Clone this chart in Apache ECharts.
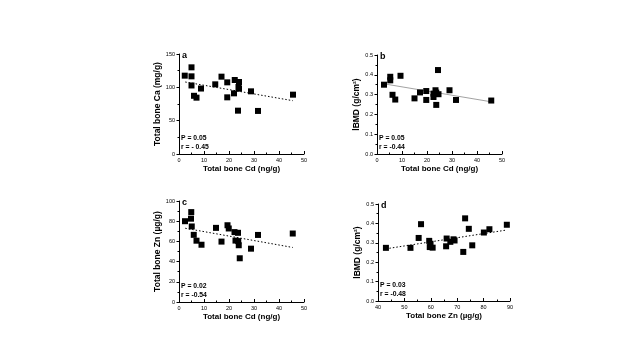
<!DOCTYPE html>
<html>
<head>
<meta charset="utf-8">
<script src="https://cdn.jsdelivr.net/npm/echarts@6/dist/echarts.min.js"></script>
<style>html,body{margin:0;padding:0;background:#fff;}#c{width:640px;height:360px;}</style>
</head>
<body>
<div id="c"></div>
<script>
// Panel a: Total bone Cd (ng/g) vs Total bone Ca (mg/g)
const cdA = [2.3, 5, 5, 5, 6, 7, 8.8, 14.5, 17, 19.3, 19.3, 22, 22.3, 24, 23.8, 24, 23.6, 28.8, 31.6, 45.6];
const caA = [117.5, 130, 116.5, 102.8, 87.3, 84.5, 98.2, 104.5, 116, 107.5, 85, 91, 111, 108, 100.5, 98, 65, 94, 64.6, 89];
const fitA = { x: [2.5, 45.5], y: [108, 80] };

// Panel b: Total bone Cd (ng/g) vs lBMD (g/cm2)
const cdB = [2.8, 5.3, 5.3, 6.2, 7.3, 9.4, 15, 17.2, 19.7, 19.7, 22.6, 22.6, 23.4, 23.7, 23.7, 24.4, 24.6, 29, 31.6, 45.7];
const bmdB = [0.35, 0.39, 0.372, 0.299, 0.275, 0.395, 0.281, 0.311, 0.318, 0.273, 0.305, 0.288, 0.322, 0.31, 0.248, 0.424, 0.302, 0.322, 0.273, 0.27];
const fitB = { x: [2.5, 45.5], y: [0.355, 0.264] };

// Panel c: Total bone Cd (ng/g) vs Total bone Zn (ug/g)
const cdC = [2.4, 4.9, 4.8, 5.1, 5.9, 7, 9, 14.8, 17, 19.4, 19.9, 22.2, 22.6, 23.6, 23.7, 23.9, 24.3, 28.8, 31.6, 45.5];
const znC = [80, 89, 82.5, 74.8, 66.5, 60.7, 56.7, 73.4, 59.8, 76, 72.8, 69.2, 60.8, 68.5, 60.3, 56.2, 43.3, 52.8, 66.4, 67.8];
const fitC = { x: [2.5, 45.5], y: [73, 54] };

// Panel d: Total bone Zn (ug/g) vs lBMD (g/cm2)
const znD = [43, 52.3, 55.4, 56.3, 59.4, 59.9, 59.6, 60.7, 65.8, 66, 67.4, 68.6, 69, 72.3, 73, 74.4, 75.7, 80.1, 82.2, 88.8];
const bmdD = [0.274, 0.274, 0.325, 0.396, 0.31, 0.295, 0.278, 0.275, 0.282, 0.322, 0.305, 0.318, 0.312, 0.253, 0.426, 0.372, 0.287, 0.353, 0.37, 0.393];
const fitD = { x: [43, 88.8], y: [0.269, 0.366] };

// Axis names, tick settings, and annotation texts
const xNames = ['Total bone Cd (ng/g)', 'Total bone Cd (ng/g)', 'Total bone Cd (ng/g)', 'Total bone Zn (\u00b5g/g)'];
const yNames = ['Total bone Ca (mg/g)', 'lBMD (g/cm\u00b2)', 'Total bone Zn (\u00b5g/g)', 'lBMD (g/cm\u00b2)'];
const xRanges = [[0, 50, 10], [0, 50, 10], [0, 50, 10], [40, 90, 10]];
const yRanges = [[0, 150, 50], [0, 0.5, 0.1], [0, 100, 20], [0, 0.5, 0.1]];
const letters = ['a', 'b', 'c', 'd'];
const pTexts = ['P = 0.05', 'P = 0.05', 'P = 0.02', 'P = 0.03'];
const rTexts = ['r = - 0.45', 'r = -0.44', 'r = -0.54', 'r = -0.48'];

const scatterX = [cdA, cdB, cdC, znD];
const scatterY = [caA, bmdB, znC, bmdD];
const fits = [fitA, fitB, fitC, fitD];
const fitStyles = [
  { color: '#000', type: [1.5, 2], width: 1 },
  { color: '#8a8a8a', type: 'solid', width: 0.8 },
  { color: '#000', type: [1.5, 2], width: 1 },
  { color: '#000', type: [1.5, 2], width: 1 }
];

const grids = [
  { left: 179, top: 54, width: 125, height: 100 },
  { left: 377, top: 55, width: 125, height: 99 },
  { left: 179, top: 201, width: 125, height: 101 },
  { left: 378, top: 204, width: 132, height: 97 }
];

const FONT = 'Liberation Sans, Arial, sans-serif';
const axisLineStyle = { color: '#000', width: 1 };

const xAxes = grids.map((g, i) => ({
  type: 'value', gridIndex: i,
  min: xRanges[i][0], max: xRanges[i][1], interval: xRanges[i][2],
  name: xNames[i], nameLocation: 'middle', nameGap: 11,
  nameTextStyle: { fontFamily: FONT, fontSize: 8, fontWeight: 'bold', color: '#000' },
  axisLine: { show: true, onZero: false, lineStyle: axisLineStyle },
  axisTick: { show: true, inside: true, length: 3, lineStyle: axisLineStyle },
  minorTick: { show: true, splitNumber: 2, length: 1.5, lineStyle: { color: '#000' } },
  axisLabel: { fontFamily: FONT, fontSize: 5.5, color: '#000', margin: 3, showMinLabel: true, showMaxLabel: true },
  splitLine: { show: false }
}));

const yAxes = grids.map((g, i) => ({
  type: 'value', gridIndex: i,
  min: yRanges[i][0], max: yRanges[i][1], interval: yRanges[i][2],
  name: yNames[i], nameLocation: 'middle', nameGap: 14, nameRotate: 90,
  nameTextStyle: { fontFamily: FONT, fontSize: 8.5, fontWeight: 'bold', color: '#000' },
  axisLine: { show: true, onZero: false, lineStyle: axisLineStyle },
  axisTick: { show: true, inside: false, length: 2.5, lineStyle: axisLineStyle },
  minorTick: { show: true, splitNumber: 2, length: 1.5, lineStyle: { color: '#000' } },
  axisLabel: {
    fontFamily: FONT, fontSize: 5.5, color: '#000', margin: 4,
    formatter: (v) => (yRanges[i][2] < 1 ? v.toFixed(1) : String(v))
  },
  splitLine: { show: false }
}));

const series = [];
for (let i = 0; i < 4; i++) {
  series.push({
    type: 'scatter', xAxisIndex: i, yAxisIndex: i,
    symbol: 'rect', symbolSize: 6,
    itemStyle: { color: '#000', opacity: 1 },
    data: scatterX[i].map((x, k) => [x, scatterY[i][k]]),
    z: 3
  });
  series.push({
    type: 'line', xAxisIndex: i, yAxisIndex: i,
    showSymbol: false, symbol: 'none',
    lineStyle: fitStyles[i],
    data: fits[i].x.map((x, k) => [x, fits[i].y[k]]),
    z: 2, silent: true
  });
}

const graphics = [];
grids.forEach((g, i) => {
  graphics.push({
    type: 'text', left: g.left + 3, top: g.top - 3,
    style: { text: letters[i], font: 'bold 9px ' + FONT, fill: '#000' }
  });
  graphics.push({
    type: 'text', left: g.left + 2, top: g.top + g.height - 20,
    style: { text: pTexts[i] + '\n' + rTexts[i], font: 'bold 6.8px ' + FONT, fill: '#000', lineHeight: 9 }
  });
});

const chart = echarts.init(document.getElementById('c'), null, { renderer: 'canvas' });
chart.setOption({
  backgroundColor: '#fff',
  animation: false,
  grid: grids.map(g => Object.assign({ containLabel: false }, g)),
  xAxis: xAxes,
  yAxis: yAxes,
  series: series,
  graphic: graphics
});
</script>
</body>
</html>
